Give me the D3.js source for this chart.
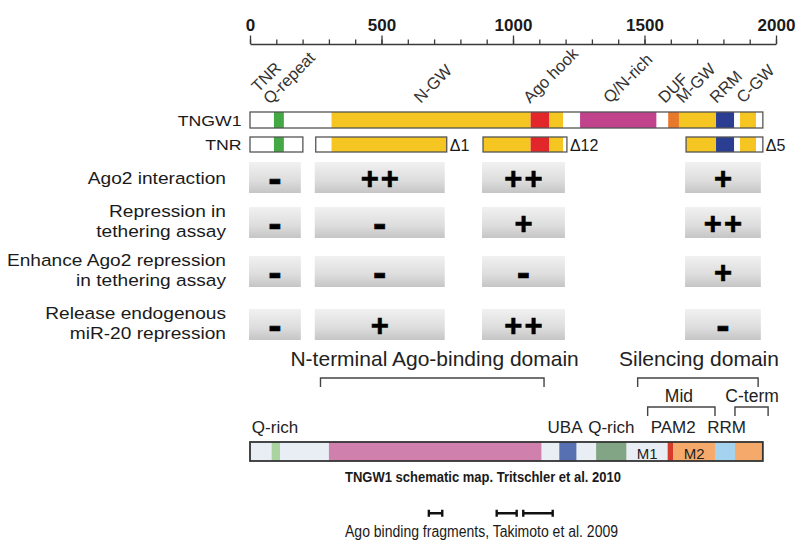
<!DOCTYPE html>
<html><head><meta charset="utf-8">
<script src="https://cdn.jsdelivr.net/npm/d3@7"></script>
<style>
body{margin:0;background:#fff}
svg{display:block}
text{font-family:"Liberation Sans",Arial,Helvetica,sans-serif}
</style>
</head><body>
<svg id="chart" width="800" height="546"></svg>
<script>
// ---------------- DATA ----------------
const axisMajorTicks = [0, 500, 1000, 1500, 2000];
const proteinLength = 1950;

// TNGW1 domain map (amino-acid positions)
const tngw1Segments = [
  {start: 0,    end: 91,   domain: "none"},
  {start: 91,   end: 129,  domain: "TNR"},
  {start: 129,  end: 310,  domain: "none"},
  {start: 310,  end: 1067, domain: "GW"},
  {start: 1067, end: 1137, domain: "hook"},
  {start: 1137, end: 1191, domain: "GW"},
  {start: 1191, end: 1255, domain: "none"},
  {start: 1255, end: 1546, domain: "QN"},
  {start: 1546, end: 1590, domain: "none"},
  {start: 1590, end: 1631, domain: "DUF"},
  {start: 1631, end: 1772, domain: "GW"},
  {start: 1772, end: 1841, domain: "RRM"},
  {start: 1841, end: 1863, domain: "none"},
  {start: 1863, end: 1924, domain: "GW"},
  {start: 1924, end: 1950, domain: "none"}
];

const featureLabels = [
  {lines: ["TNR", "Q-repeat"], pos: 31},
  {lines: ["N-GW"], pos: 649},
  {lines: ["Ago hook"], pos: 1065},
  {lines: ["Q/N-rich"], pos: 1369},
  {lines: ["DUF"], pos: 1578},
  {lines: ["M-GW"], pos: 1646},
  {lines: ["RRM"], pos: 1774},
  {lines: ["C-GW"], pos: 1875}
];

const constructs = [
  {name: "TNR", start: 0,    end: 201,  showName: false},
  {name: "Δ1",  start: 250,  end: 748,  showName: true},
  {name: "Δ12", start: 886,  end: 1205, showName: true},
  {name: "Δ5",  start: 1658, end: 1950, showName: true}
];

const assayLabels = [
  ["Ago2 interaction"],
  ["Repression in", "tethering assay"],
  ["Enhance Ago2 repression", "in tethering assay"],
  ["Release endogenous", "miR-20 repression"]
];
const assayResults = [
  ["-", "++", "++", "+"],
  ["-", "-",  "+",  "++"],
  ["-", "-",  "-",  "+"],
  ["-", "+",  "++", "-"]
];

const domainLabels = [
  {text: "N-terminal Ago-binding domain", pos: 702, level: 0},
  {text: "Silencing domain", pos: 1707, level: 0},
  {text: "Mid", pos: 1631, level: 1},
  {text: "C-term", pos: 1909, level: 1}
];
const brackets = [
  {start: 268,  end: 1118, level: 0},
  {start: 1474, end: 1932, level: 0},
  {start: 1512, end: 1768, level: 1},
  {start: 1844, end: 1970, level: 1}
];

// Tritschler et al. 2010 schematic map
const mapSegments = [
  {start: 0,    end: 82,   domain: "plain"},
  {start: 82,   end: 114,  domain: "Qrich1"},
  {start: 114,  end: 300,  domain: "plain"},
  {start: 300,  end: 1109, domain: "Nterm"},
  {start: 1109, end: 1176, domain: "plain"},
  {start: 1176, end: 1242, domain: "UBA"},
  {start: 1242, end: 1316, domain: "plain"},
  {start: 1316, end: 1432, domain: "Qrich2"},
  {start: 1432, end: 1588, domain: "plain", label: "M1"},
  {start: 1588, end: 1610, domain: "PAM2"},
  {start: 1610, end: 1768, domain: "M2", label: "M2"},
  {start: 1768, end: 1844, domain: "RRM"},
  {start: 1844, end: 1950, domain: "Cterm"}
];
const mapLabels = [
  {text: "Q-rich", pos: 95},
  {text: "UBA", pos: 1198},
  {text: "Q-rich", pos: 1374},
  {text: "PAM2", pos: 1609},
  {text: "RRM", pos: 1812}
];
const mapCaption = "TNGW1 schematic map. Tritschler et al. 2010";

// Takimoto et al. 2009 fragments
const fragments = [
  {start: 680,  end: 731},
  {start: 938,  end: 1014},
  {start: 1039, end: 1151}
];
const fragmentCaption = "Ago binding fragments, Takimoto et al. 2009";

// ---------------- STYLE ----------------
const domainColor = {
  none: "#ffffff", TNR: "#44a844", GW: "#f5c522", hook: "#e2272a",
  QN: "#c0438c", DUF: "#e9792a", RRM: "#2a3e92"
};
const mapColor = {
  plain: "#e9eef4", Qrich1: "#a9d4a0", Nterm: "#cf80ad", UBA: "#5670b2",
  Qrich2: "#82a585", PAM2: "#d63a2b", M2: "#f5aa6c", RRM: "#a3d3ee", Cterm: "#f5aa6c"
};

const svg = d3.select("#chart");
const x = d3.scaleLinear().domain([0, 2000]).range([250, 776]);

// gradient for the assay boxes
const defs = svg.append("defs");
const grad = defs.append("linearGradient").attr("id", "boxGrad")
  .attr("x1", 0).attr("y1", 0).attr("x2", 0).attr("y2", 1);
grad.append("stop").attr("offset", "0%").attr("stop-color", "#f1f1f1");
grad.append("stop").attr("offset", "60%").attr("stop-color", "#dddddd");
grad.append("stop").attr("offset", "100%").attr("stop-color", "#c5c5c5");

// ---------------- AXIS ----------------
const axisY = 44;
const minorAxis = svg.append("g").attr("transform", `translate(0,${axisY})`)
  .call(d3.axisTop(x).tickValues(x.ticks(20)).tickSize(4.6).tickSizeOuter(0).tickFormat(""));
const majorAxis = svg.append("g").attr("transform", `translate(0,${axisY})`)
  .call(d3.axisTop(x).tickValues(axisMajorTicks).tickSize(8.5).tickSizeOuter(0).tickPadding(5).tickFormat(d3.format("d")));
majorAxis.select(".domain").remove();
[minorAxis, majorAxis].forEach(g => {
  g.selectAll("path,line").attr("stroke", "#3a3a3a").attr("stroke-width", 1.3);
});
majorAxis.selectAll("text").attr("font-size", 17).attr("font-weight", "bold").attr("fill", "#1a1a1a");

// ---------------- FEATURE LABELS ----------------
const labelBaseY = 104;
featureLabels.forEach(f => {
  const multi = f.lines.length > 1;
  const t = svg.append("text")
    .attr("transform", `translate(${x(f.pos)},${multi ? labelBaseY - 11 : labelBaseY}) rotate(-45)`)
    .attr("font-size", 16.5).attr("fill", "#333");
  t.selectAll("tspan").data(f.lines).join("tspan")
    .attr("x", 0).attr("dy", (d, i) => i ? "1.02em" : 0).text(d => d);
});

// ---------------- TNGW1 BAR + CONSTRUCTS ----------------
function drawBar(g, segs, y0, h, start, end) {
  g.selectAll(null).data(segs).join("rect")
    .attr("x", d => x(d.start)).attr("width", d => x(d.end) - x(d.start))
    .attr("y", y0).attr("height", h)
    .attr("fill", d => domainColor[d.domain]);
  g.append("rect").attr("x", x(start)).attr("width", x(end) - x(start))
    .attr("y", y0).attr("height", h).attr("fill", "none")
    .attr("stroke", "#555").attr("stroke-width", 1.3);
}
function clipSegs(segs, s, e) {
  return segs.filter(d => d.end > s && d.start < e)
    .map(d => ({start: Math.max(d.start, s), end: Math.min(d.end, e), domain: d.domain}));
}
const topBar = svg.append("g");
drawBar(topBar, tngw1Segments, 112, 16, 0, proteinLength);
svg.append("text").attr("transform", "translate(241.5,125.5) scale(1.14,1)")
  .attr("text-anchor", "end").attr("font-size", 15.5).attr("fill", "#1a1a1a").text("TNGW1");

const conY = 137, conH = 15;
constructs.forEach(c => {
  const g = svg.append("g");
  drawBar(g, clipSegs(tngw1Segments, c.start, c.end), conY, conH, c.start, c.end);
  if (c.showName) {
    svg.append("text").attr("x", x(c.end) + 3).attr("y", 150.5)
      .attr("font-size", 16).attr("fill", "#1a1a1a").text(c.name);
  }
});
svg.append("text").attr("transform", "translate(241.5,150) scale(1.14,1)")
  .attr("text-anchor", "end").attr("font-size", 15.5).attr("fill", "#1a1a1a").text(constructs[0].name);

// ---------------- ASSAY GRID ----------------
const rowTops = [162, 207, 256, 309];
const rowH = 31;
assayLabels.forEach((lines, r) => {
  const cy = rowTops[r] + rowH / 2;
  const first = lines.length === 1 ? cy + 6.5 : cy - 6;
  lines.forEach((ln, i) => {
    svg.append("text").attr("transform", `translate(226,${first + i * 20.5}) scale(1.16,1)`)
      .attr("text-anchor", "end").attr("font-size", 16.5).attr("fill", "#1a1a1a").text(ln);
  });
  assayResults[r].forEach((sym, c) => {
    const con = constructs[c];
    const x0 = x(con.start) - 1, x1 = x(con.end) - 2;
    svg.append("rect").attr("x", x0).attr("y", rowTops[r]).attr("width", x1 - x0).attr("height", rowH)
      .attr("fill", "url(#boxGrad)");
    const isMinus = sym === "-";
    const ls = sym.length > 1 ? 2 : 0;
    svg.append("text").attr("x", (x0 + x1) / 2 + ls / 2).attr("y", cy + (isMinus ? 0 : 1))
      .attr("text-anchor", "middle").attr("dominant-baseline", "central")
      .attr("letter-spacing", ls)
      .attr("font-size", isMinus ? 40 : 31).attr("font-weight", "bold")
      .attr("fill", "#000").attr("stroke", "#000").attr("stroke-width", 0.6)
      .text(sym);
  });
});

// ---------------- DOMAIN BRACKETS ----------------
const levelText = [366, 402];
const levelSize = [21, 17.5];
const levelBr = [[378, 387], [407, 416]];
domainLabels.forEach(d => {
  svg.append("text").attr("x", x(d.pos)).attr("y", levelText[d.level])
    .attr("text-anchor", "middle").attr("font-size", levelSize[d.level]).attr("fill", "#222").text(d.text);
});
brackets.forEach(b => {
  const [yt, yb] = levelBr[b.level];
  svg.append("path")
    .attr("d", `M${x(b.start)},${yb} V${yt} H${x(b.end)} V${yb}`)
    .attr("fill", "none").attr("stroke", "#444").attr("stroke-width", 1.4);
});

// ---------------- SCHEMATIC MAP ----------------
const mapY = 442, mapH = 19;
mapLabels.forEach(l => {
  svg.append("text").attr("x", x(l.pos)).attr("y", 433).attr("text-anchor", "middle")
    .attr("font-size", 17).attr("fill", "#222").text(l.text);
});
svg.selectAll(null).data(mapSegments).join("rect")
  .attr("x", d => x(d.start)).attr("width", d => x(d.end) - x(d.start))
  .attr("y", mapY).attr("height", mapH).attr("fill", d => mapColor[d.domain]);
svg.append("rect").attr("x", x(0)).attr("width", x(proteinLength) - x(0))
  .attr("y", mapY).attr("height", mapH).attr("fill", "none")
  .attr("stroke", "#333").attr("stroke-width", 1.8);
mapSegments.filter(d => d.label).forEach(d => {
  svg.append("text").attr("x", (x(d.start) + x(d.end)) / 2).attr("y", 459)
    .attr("text-anchor", "middle").attr("font-size", 15).attr("fill", "#222").text(d.label);
});
svg.append("text").attr("x", 483).attr("y", 481.5).attr("text-anchor", "middle")
  .attr("font-size", 14).attr("font-weight", "bold").attr("fill", "#1a1a1a")
  .attr("textLength", 276).attr("lengthAdjust", "spacingAndGlyphs").text(mapCaption);

// ---------------- FRAGMENTS ----------------
const fragY = 513.3;
fragments.forEach(f => {
  svg.append("path")
    .attr("d", `M${x(f.start)},${fragY - 3.5} V${fragY + 3.5} M${x(f.start)},${fragY} H${x(f.end)} M${x(f.end)},${fragY - 3.5} V${fragY + 3.5}`)
    .attr("fill", "none").attr("stroke", "#111").attr("stroke-width", 2.4);
});
svg.append("text").attr("x", 481.5).attr("y", 536.5).attr("text-anchor", "middle")
  .attr("font-size", 16).attr("fill", "#1a1a1a")
  .attr("textLength", 273).attr("lengthAdjust", "spacingAndGlyphs").text(fragmentCaption);
</script>
</body></html>
